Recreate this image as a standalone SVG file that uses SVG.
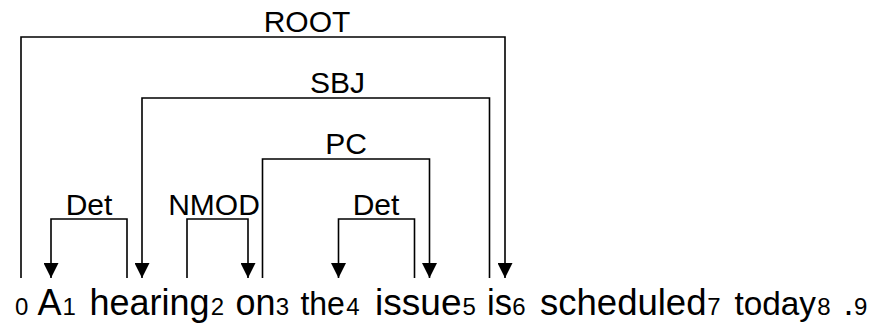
<svg xmlns="http://www.w3.org/2000/svg" width="878" height="323" viewBox="0 0 878 323">
  <style>
    text { font-family: "Liberation Sans", Arial, sans-serif; fill: #000; }
    .w { font-size: 36px; }
    .i { font-size: 24px; }
    .lbl { font-size: 30px; text-anchor: middle; }
    .arc { fill: none; stroke: #000; stroke-width: 1.6; }
    .arc.to { marker-end: url(#head); }
  </style>
  <defs>
    <marker id="head" markerUnits="userSpaceOnUse" markerWidth="15" markerHeight="15" refX="15" refY="7.5" orient="auto" viewBox="0 0 15 15">
      <path d="M0,0 L15,7.5 L0,15 Z" fill="#000"/>
    </marker>
  </defs>
  <rect width="878" height="323" fill="#fff"/>

  <!-- dependency arcs: head word -> dependent word -->
  <g id="connectors">
    <path id="e-root" class="arc to" d="M21,278 V37 H505 V278"/>
    <path id="e-sbj" class="arc to" d="M489.5,278 V98 H142 V278"/>
    <path id="e-pc" class="arc to" d="M262.5,278 V159 H429.5 V278"/>
    <path id="e-det1" class="arc to" d="M127,278 V219 H51 V278"/>
    <path id="e-nmod" class="arc to" d="M187,278 V219 H248 V278"/>
    <path id="e-det2" class="arc to" d="M414.5,278 V219 H338.5 V278"/>
  </g>

  <g id="labels">
    <text class="lbl" x="307" y="32">ROOT</text>
    <text class="lbl" x="337.5" y="93">SBJ</text>
    <text class="lbl" x="346" y="154">PC</text>
    <text class="lbl" x="89" y="214.5">Det</text>
    <text class="lbl" x="214" y="214.5">NMOD</text>
    <text class="lbl" x="376" y="214.5">Det</text>
  </g>

  <!-- tokens: word followed by its index -->
  <g id="tok0"><text y="315"><tspan class="i" x="15">0</tspan></text></g>
  <g id="tok1"><text y="315"><tspan class="w" x="37.5">A</tspan><tspan class="i" x="62.4">1</tspan></text></g>
  <g id="tok2"><text y="315"><tspan class="w" x="89.4" textLength="120" lengthAdjust="spacingAndGlyphs">hearing</tspan><tspan class="i" x="210.7">2</tspan></text></g>
  <g id="tok3"><text y="315"><tspan class="w" x="235.4" textLength="40" lengthAdjust="spacingAndGlyphs">on</tspan><tspan class="i" x="275.7">3</tspan></text></g>
  <g id="tok4"><text y="315"><tspan class="w" x="300.4" style="font-size:32.8px" textLength="44.5" lengthAdjust="spacingAndGlyphs">the</tspan><tspan class="i" x="346.3">4</tspan></text></g>
  <g id="tok5"><text y="315"><tspan class="w" x="375" textLength="86.5" lengthAdjust="spacingAndGlyphs">issue</tspan><tspan class="i" x="462.5">5</tspan></text></g>
  <g id="tok6"><text y="315"><tspan class="w" x="487" textLength="25" lengthAdjust="spacingAndGlyphs">is</tspan><tspan class="i" x="512.3">6</tspan></text></g>
  <g id="tok7"><text y="315"><tspan class="w" x="540" textLength="166.5" lengthAdjust="spacingAndGlyphs">scheduled</tspan><tspan class="i" x="707.3">7</tspan></text></g>
  <g id="tok8"><text y="315"><tspan class="w" x="734.4" style="font-size:33.5px" textLength="81.5" lengthAdjust="spacingAndGlyphs">today</tspan><tspan class="i" x="817.3">8</tspan></text></g>
  <g id="tok9"><text y="315"><tspan class="w" x="843.4">.</tspan><tspan class="i" x="854">9</tspan></text></g>
</svg>
